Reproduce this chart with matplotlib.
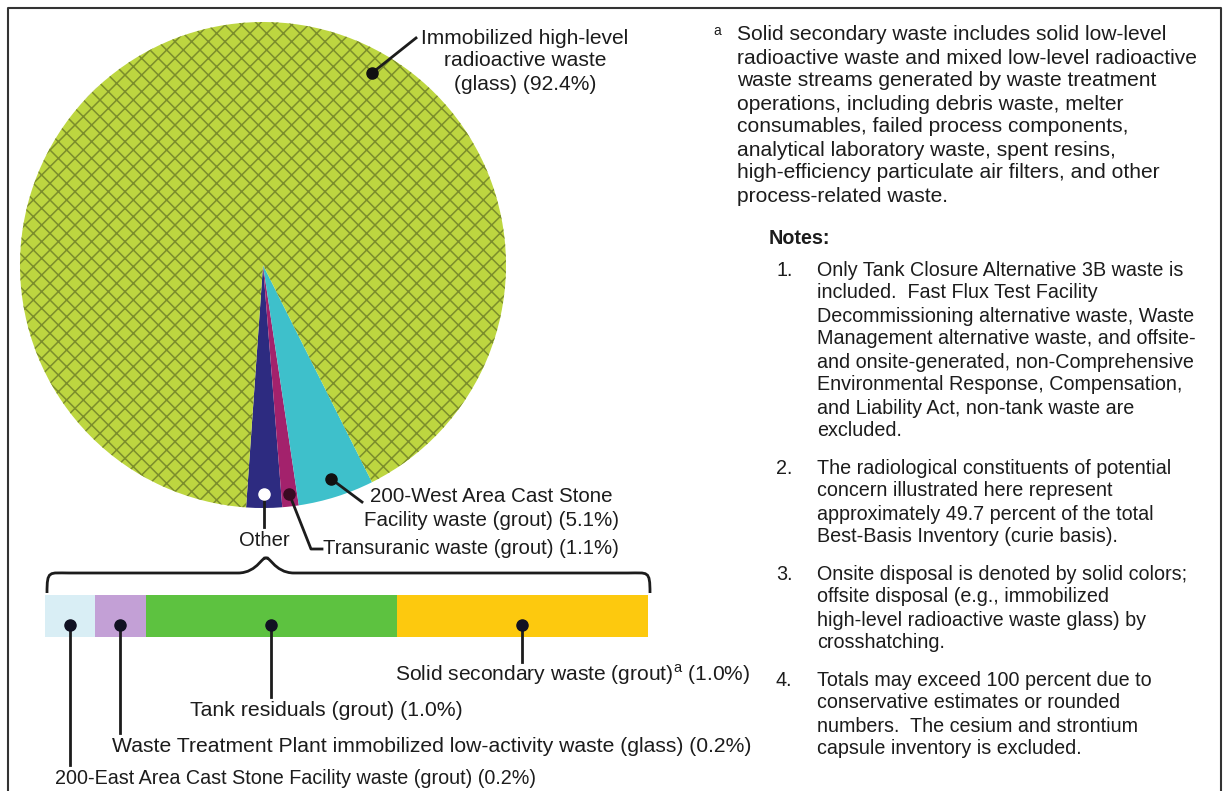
import numpy as np
import matplotlib
matplotlib.use("Agg")
import matplotlib.pyplot as plt
from matplotlib.path import Path
from matplotlib.patches import PathPatch

plt.rcParams['font.family'] = ['Liberation Sans', 'DejaVu Sans']
plt.rcParams['mathtext.fontset'] = 'custom'
plt.rcParams['mathtext.rm'] = 'Liberation Sans'
plt.rcParams['hatch.linewidth'] = 1.1

# ---------------- data ----------------
pie_labels = ["Other", "Transuranic waste (grout)", "200-West Area Cast Stone Facility waste (grout)",
              "Immobilized high-level radioactive waste (glass)"]
other_labels = ["200-East Area Cast Stone Facility waste (grout)",
                "Waste Treatment Plant immobilized low-activity waste (glass)",
                "Tank residuals (grout)",
                "Solid secondary waste (grout)"]
other_values = [0.2, 0.2, 1.0, 1.0]
pie_values = [sum(other_values), 1.1, 5.1, 92.4]

pie_colors = ["#2d2b80", "#a3226c", "#3ec0cb", "#bdd640"]
bar_colors = ["#d9eef5", "#c3a0d6", "#5dc240", "#fdc90e"]

footnote_lines = [
    "Solid secondary waste includes solid low-level",
    "radioactive waste and mixed low-level radioactive",
    "waste streams generated by waste treatment",
    "operations, including debris waste, melter",
    "consumables, failed process components,",
    "analytical laboratory waste, spent resins,",
    "high-efficiency particulate air filters, and other",
    "process-related waste.",
]
notes = [
    ["Only Tank Closure Alternative 3B waste is",
     "included.  Fast Flux Test Facility",
     "Decommissioning alternative waste, Waste",
     "Management alternative waste, and offsite-",
     "and onsite-generated, non-Comprehensive",
     "Environmental Response, Compensation,",
     "and Liability Act, non-tank waste are",
     "excluded."],
    ["The radiological constituents of potential",
     "concern illustrated here represent",
     "approximately 49.7 percent of the total",
     "Best-Basis Inventory (curie basis)."],
    ["Onsite disposal is denoted by solid colors;",
     "offsite disposal (e.g., immobilized",
     "high-level radioactive waste glass) by",
     "crosshatching."],
    ["Totals may exceed 100 percent due to",
     "conservative estimates or rounded",
     "numbers.  The cesium and strontium",
     "capsule inventory is excluded."],
]

# ---------------- figure ----------------
W, H = 1225, 791
fig = plt.figure(figsize=(W / 100, H / 100), dpi=100)
ax = fig.add_axes([0, 0, 1, 1])

def Y(py):
    return H - py

TXT = "#1c1c1c"
FS = 15.1
LW = 2.0

# pie
cx, cy, R = 263, 265, 243
wedges, _ = ax.pie(pie_values, colors=pie_colors, startangle=266, counterclock=True,
                   center=(cx, Y(cy)), radius=R,
                   wedgeprops=dict(linewidth=0, edgecolor="none"))
wedges[3].set_hatch("xx")
wedges[3].set_edgecolor("#7b8d2c")
wedges[3].set_linewidth(0)

ax.set_xlim(0, W)
ax.set_ylim(0, H)
ax.set_aspect('auto')
ax.axis('off')

def wedge_point(w, r):
    th = np.deg2rad((w.theta1 + w.theta2) / 2)
    return cx + r * np.cos(th), Y(cy) + r * np.sin(th)

# frame
ax.plot([8, 8, 1221, 1221], [0, Y(8), Y(8), 0], color="#333333", lw=1.5, solid_capstyle='butt')

# glass label
gx, gy = 372, 73
ax.plot([gx, 416], [Y(gy), Y(38)], color=TXT, lw=LW)
ax.plot(gx, Y(gy), 'o', ms=8, color="#111111")
for i, s in enumerate(["Immobilized high-level", "radioactive waste", "(glass) (92.4%)"]):
    ax.text(525, Y(38 + 23 * i), s, fontsize=FS, color=TXT, ha='center', va='center')

# 200-West label
wx, wy = wedge_point(wedges[2], 224)
ax.plot([wx, 362], [wy, Y(502)], color=TXT, lw=LW)
ax.plot(wx, wy, 'o', ms=8, color="#111111")
ax.text(491, Y(497), "200-West Area Cast Stone", fontsize=14.8, color=TXT, ha='center', va='center')
ax.text(491, Y(521), "Facility waste (grout) (5.1%)", fontsize=14.8, color=TXT, ha='center', va='center')

# Transuranic label
tx, ty = wedge_point(wedges[1], 230)
ax.plot([tx, 311, 322], [ty, Y(549), Y(549)], color=TXT, lw=LW)
ax.plot(tx, ty, 'o', ms=8, color="#3a0a22")
ax.text(323, Y(549), "Transuranic waste (grout) (1.1%)", fontsize=14.6, color=TXT, ha='left', va='center')

# Other label
ox, oy = wedge_point(wedges[0], 229)
ax.plot([ox, ox], [oy, Y(527)], color=TXT, lw=LW)
ax.plot(ox, oy, 'o', ms=8, color="white")
ax.text(ox, Y(541), "Other", fontsize=14.6, color=TXT, ha='center', va='center')

# brace
bl, br, bc = 47, 650, 266
yb, yt, yc = Y(593), Y(573), Y(559)
verts = [(bl, yb), (bl, yt + 3), (bl + 2, yt), (bl + 22, yt),
         (bc - 28, yt),
         (bc - 8, yt), (bc - 2, yc + 6), (bc, yc),
         (bc + 2, yc + 6), (bc + 8, yt), (bc + 28, yt),
         (br - 22, yt),
         (br - 2, yt), (br, yt + 3), (br, yb)]
codes = [Path.MOVETO, Path.CURVE4, Path.CURVE4, Path.CURVE4,
         Path.LINETO,
         Path.CURVE4, Path.CURVE4, Path.CURVE4,
         Path.CURVE4, Path.CURVE4, Path.CURVE4,
         Path.LINETO,
         Path.CURVE4, Path.CURVE4, Path.CURVE4]
ax.add_patch(PathPatch(Path(verts, codes), fill=False, edgecolor=TXT, lw=LW))

# stacked bar of "Other"
x0, x1 = 45, 648
scale = (x1 - x0) / sum(other_values)
vals = np.array(other_values)
widths = vals * scale
lefts = x0 + np.concatenate([[0], np.cumsum(widths)[:-1]])
ax.barh(Y(616), widths, left=lefts, height=42, color=bar_colors, linewidth=0)

centers = lefts + widths / 2
label_tops = [765, 733, 697, 662]
label_pos = [(55, 778), (112, 746), (190, 711), (395, 675)]
pct_text = [f"({v:.1f}%)" for v in other_values]
label_strs = [other_labels[0] + " " + pct_text[0],
              other_labels[1] + " " + pct_text[1],
              other_labels[2] + " " + pct_text[2],
              other_labels[3] + r"$^{\rm a}$ " + pct_text[3]]
label_fs = [14.2, 15.2, 15.3, 15.1]
for c, top, (lx, ly), s, fs in zip(centers, label_tops, label_pos, label_strs, label_fs):
    ax.plot([c, c], [Y(625), Y(top)], color=TXT, lw=LW)
    ax.plot(c, Y(625), 'o', ms=8, color="#111122")
    ax.text(lx, Y(ly), s, fontsize=fs, color=TXT, ha='left', va='center')

# footnote
ax.text(713, Y(31), "a", fontsize=10, color=TXT, ha='left', va='center')
for i, s in enumerate(footnote_lines):
    ax.text(737, Y(35 + 23 * i), s, fontsize=FS, color=TXT, ha='left', va='center')

# notes
NFS = 14.2
ax.text(769, Y(238), "Notes:", fontsize=NFS, color=TXT, ha='left', va='center', fontweight='bold')
starts = [270, 468, 574, 680]
for n, (st, lines) in enumerate(zip(starts, notes)):
    ax.text(776, Y(st), f"{n + 1}.", fontsize=NFS, color=TXT, ha='left', va='center')
    for i, s in enumerate(lines):
        ax.text(817, Y(st + 23 * i), s, fontsize=NFS, color=TXT, ha='left', va='center')

fig.savefig("out.png", dpi=100)
